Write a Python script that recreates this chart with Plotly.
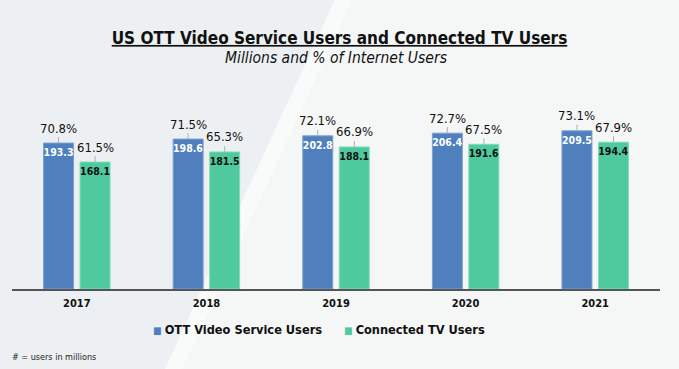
import plotly.graph_objects as go

years = ["2017", "2018", "2019", "2020", "2021"]
ott_users = [193.3, 198.6, 202.8, 206.4, 209.5]
ctv_users = [168.1, 181.5, 188.1, 191.6, 194.4]
ott_pct = ["70.8%", "71.5%", "72.1%", "72.7%", "73.1%"]
ctv_pct = ["61.5%", "65.3%", "66.9%", "67.5%", "67.9%"]
series_names = ["OTT Video Service Users", "Connected TV Users"]

BLUE = "#4f80bd"
GREEN = "#4fc99e"
FONT = "DejaVu Sans Condensed"

W, H = 679, 369
L, R, T, B = 12, 19, 80, 80
PW, PH = W - L - R, H - T - B


def px(x):
    return (x - L) / PW


def py(y):
    return (H - B - y) / PH


def poly(points):
    return "M " + " L ".join(f"{px(x):.4f},{py(y):.4f}" for x, y in points) + " Z"


fig = go.Figure()
fig.add_trace(go.Bar(
    x=years, y=ott_users, name=series_names[0],
    marker=dict(color=BLUE, line=dict(color="#7d9fd0", width=1)),
    texttemplate="%{y:.1f}", textposition="inside", insidetextanchor="end",
    textangle=0, constraintext="none",
    textfont=dict(family=FONT, size=10.5, color="white", weight="bold"),
    showlegend=False, hoverinfo="skip",
))
fig.add_trace(go.Bar(
    x=years, y=ctv_users, name=series_names[1],
    marker=dict(color=GREEN, line=dict(color="#7fdcbb", width=1)),
    texttemplate="%{y:.1f}", textposition="inside", insidetextanchor="end",
    textangle=0, constraintext="none",
    textfont=dict(family=FONT, size=10.5, color="#111111", weight="bold"),
    showlegend=False, hoverinfo="skip",
))

annotations = []
for i, (v, p) in enumerate(zip(ott_users, ott_pct)):
    annotations.append(dict(x=i, y=v, xref="x", yref="y", text=p, xshift=-18.3,
                            showarrow=True, arrowhead=0, arrowwidth=1, arrowcolor="#b0b0b0",
                            ax=0, ay=-15, font=dict(family=FONT, size=13, color="#111111")))
for i, (v, p) in enumerate(zip(ctv_users, ctv_pct)):
    annotations.append(dict(x=i, y=v, xref="x", yref="y", text=p, xshift=18.3,
                            showarrow=True, arrowhead=0, arrowwidth=1, arrowcolor="#b0b0b0",
                            ax=0, ay=-15, font=dict(family=FONT, size=13, color="#111111")))

annotations.append(dict(x=0.5, y=py(58), xref="paper", yref="paper",
                        text="<i>Millions and % of Internet Users</i>", showarrow=False,
                        xanchor="center", yanchor="middle",
                        font=dict(family=FONT, size=15.5, color="#111111")))
annotations.append(dict(x=px(10), y=py(357), xref="paper", yref="paper",
                        text="# = users in millions", showarrow=False,
                        xanchor="left", yanchor="middle",
                        font=dict(family=FONT, size=9, color="#222222")))
# legend
for name, color, x0 in zip(series_names, [BLUE, GREEN], [151, 342]):
    annotations.append(dict(
        x=px(x0), y=py(329), xref="paper", yref="paper", showarrow=False,
        xanchor="left", yanchor="middle",
        text=f"<span style='color:{color};font-size:10px'>■ </span>{name}",
        font=dict(family=FONT, size=12.7, color="#111111", weight="bold")))

shapes = [
    dict(type="path", xref="paper", yref="paper", layer="below", line=dict(width=0),
         fillcolor="#edf0f2", path=poly([(0, 0), (335, 0), (165, H), (0, H)])),
    dict(type="path", xref="paper", yref="paper", layer="below", line=dict(width=0),
         fillcolor="#f9fafa", path=poly([(335, 0), (352, 0), (182, H), (165, H)])),
]

fig.update_layout(
    width=W, height=H,
    margin=dict(l=L, r=R, t=T, b=B),
    paper_bgcolor="#f5f6f6", plot_bgcolor="rgba(0,0,0,0)",
    barmode="group", bargap=0.437, bargroupgap=0.178,
    showlegend=False,
    title=dict(text="<b><u>US OTT Video Service Users and Connected TV Users</u></b>",
               x=0.5, xanchor="center", y=1 - 38 / H, yanchor="middle",
               font=dict(family=FONT, size=17, color="#111111")),
    xaxis=dict(type="category", showline=True, linecolor="#555555", linewidth=2, ticks="",
               showgrid=False, zeroline=False, fixedrange=True, range=[-0.5, 4.5],
               ticklabelstandoff=3,
               tickfont=dict(family=FONT, size=11, color="#111111", weight="bold")),
    yaxis=dict(visible=False, range=[0, 276.8], showgrid=False, zeroline=False),
    annotations=annotations,
    shapes=shapes,
)

fig.write_html("out.html", config={"displayModeBar": False},
               post_script="document.body.style.margin='0';")
